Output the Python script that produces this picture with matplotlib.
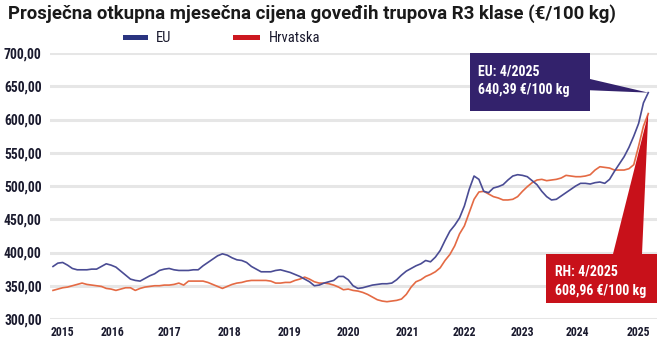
import matplotlib
matplotlib.use("Agg")
import matplotlib.pyplot as plt
from matplotlib.patches import Polygon, Rectangle
from matplotlib import font_manager

# Monthly average purchase price of R3 beef carcasses, Jan 2015 - Apr 2025 (EUR/100 kg)
years = [2015, 2016, 2017, 2018, 2019, 2020, 2021, 2022, 2023, 2024, 2025]

eu_prices = [
    379, 384, 385, 381, 376, 374, 374, 374, 375, 375, 379, 383,   # 2015
    381, 378, 372, 366, 360, 358, 357, 361, 365, 368, 373, 375,   # 2016
    376, 374, 373, 373, 373, 374, 374, 380, 385, 390, 395, 398,   # 2017
    396, 392, 389, 388, 385, 379, 375, 371, 371, 371, 373, 374,   # 2018
    372, 370, 367, 364, 360, 356, 350, 351, 354, 356, 358, 364,   # 2019
    364, 359, 350, 346, 347, 349, 351, 352, 353, 353, 354, 359,   # 2020
    366, 372, 376, 380, 383, 388, 386, 393, 403, 418, 432, 441,   # 2021
    452, 470, 495, 515, 510, 492, 490, 497, 499, 502, 509, 515,   # 2022
    517, 516, 514, 508, 502, 492, 484, 479, 480, 485, 490, 495,   # 2023
    500, 504, 504, 503, 505, 506, 504, 510, 522, 533, 544, 558,   # 2024
    575, 594, 625, 640.39,                                        # 2025
]

hr_prices = [
    343, 345, 347, 348, 350, 352, 354, 352, 351, 350, 349, 346,   # 2015
    345, 343, 345, 347, 347, 343, 346, 348, 349, 350, 350, 351,   # 2016
    351, 352, 354, 351, 357, 357, 357, 357, 355, 352, 349, 346,   # 2017
    349, 352, 354, 355, 357, 358, 358, 358, 358, 357, 354, 354,   # 2018
    355, 355, 358, 360, 363, 360, 356, 354, 354, 353, 351, 348,   # 2019
    344, 345, 343, 342, 340, 337, 333, 329, 327, 326, 327, 328,   # 2020
    330, 337, 348, 356, 359, 364, 367, 371, 377, 388, 397, 410,   # 2021
    428, 440, 460, 480, 491, 492, 488, 484, 482, 479, 479, 480,   # 2022
    484, 492, 499, 505, 509, 510, 508, 509, 510, 512, 516, 515,   # 2023
    514, 514, 515, 517, 524, 529, 528, 527, 524, 524, 524, 526,   # 2024
    532, 560, 590, 608.96,                                        # 2025
]

series_names = ["EU", "Hrvatska"]
y_ticks = [300, 350, 400, 450, 500, 550, 600, 650, 700]
last_label = "4/2025"

TITLE = "Prosječna otkupna mjesečna cijena goveđih trupova R3 klase (€/100 kg)"

# where each year label sits along the month axis
year_label_pos = [1.9, 12.2, 24.0, 36.4, 48.8, 61.0, 73.2, 85.0, 97.0, 108.3, 120.9]

EU_LINE = "#4a4c94"
HR_LINE = "#e46a44"
EU_KEY = "#2a3480"
HR_KEY = "#cc1820"
EU_BOX = "#33226c"
HR_BOX = "#c8111a"
TEXT = "#1a1a2e"


def pick_font(candidates):
    for name in candidates:
        try:
            font_manager.findfont(font_manager.FontProperties(family=name),
                                  fallback_to_default=False)
            return name
        except Exception:
            continue
    return "DejaVu Sans"


narrow = pick_font(["Liberation Sans Narrow", "Roboto Condensed", "DejaVu Sans"])
regular = pick_font(["Roboto", "Liberation Sans", "DejaVu Sans"])


def fmt(v):
    return f"{v:.2f}".replace(".", ",")


W, H = 671, 343
fig = plt.figure(figsize=(W / 100, H / 100), dpi=100)
fig.patch.set_facecolor("white")

# plot area in pixel terms: x 50..657, y 53..319 (from top)
left, right, top, bottom = 50, 657, 53, 319
ax = fig.add_axes([left / W, (H - bottom) / H, (right - left) / W, (bottom - top) / H])
ax.set_facecolor("white")

months = list(range(len(eu_prices)))
ax.set_xlim(-0.62, 124.8)
ax.set_ylim(300, 700)

ax.set_yticks(y_ticks)
ax.set_yticklabels([fmt(v) for v in y_ticks])
ax.yaxis.grid(True, color="#e6e6e6", linewidth=2.2, zorder=0)
ax.set_axisbelow(True)
for s in ax.spines.values():
    s.set_visible(False)
ax.tick_params(axis="both", length=0)
ax.tick_params(axis="y", pad=6)
ax.tick_params(axis="x", pad=5)
for lab in ax.get_yticklabels():
    lab.set_fontfamily(narrow)
    lab.set_fontweight("bold")
    lab.set_fontsize(9.8)
    lab.set_color(TEXT)

ax.set_xticks(year_label_pos)
ax.set_xticklabels([str(y) for y in years], fontfamily=narrow,
                   fontweight="bold", fontsize=8.5, color=TEXT)

ax.plot(months, hr_prices, color=HR_LINE, linewidth=1.2, zorder=3)
ax.plot(months, eu_prices, color=EU_LINE, linewidth=1.2, zorder=4)

# callouts for the latest month
end = months[-1]
eu_end = eu_prices[-1]
hr_end = hr_prices[-1]

ax.add_patch(Rectangle((86.2, 613.0), 24.8, 87.4, facecolor=EU_BOX,
                       edgecolor="none", zorder=6, clip_on=False))
ax.add_patch(Polygon([(110.9, 661), (110.9, 644), (end, eu_end)], closed=True,
                     facecolor=EU_BOX, edgecolor="none", zorder=6, clip_on=False))
ax.text(87.9, 671.5, f"EU: {last_label}", color="white", fontfamily=narrow,
        fontweight="bold", fontsize=10, va="center", ha="left", zorder=7)
ax.text(87.9, 644.5, f"{fmt(eu_end)} €/100 kg", color="white", fontfamily=narrow,
        fontweight="bold", fontsize=10, va="center", ha="left", zorder=7)

ax.add_patch(Rectangle((101.9, 324.0), 22.9, 73.7, facecolor=HR_BOX,
                       edgecolor="none", zorder=6, clip_on=False))
ax.add_patch(Polygon([(115.7, 397.5), (121.7, 397.5), (end, hr_end)], closed=True,
                     facecolor=HR_BOX, edgecolor="none", zorder=6, clip_on=False))
ax.text(103.7, 371, f"RH: {last_label}", color="white", fontfamily=narrow,
        fontweight="bold", fontsize=10, va="center", ha="left", zorder=7)
ax.text(103.7, 342.5, f"{fmt(hr_end)} €/100 kg", color="white", fontfamily=narrow,
        fontweight="bold", fontsize=10, va="center", ha="left", zorder=7)

# title
fig.text(8 / W, 1 - 14 / H, TITLE, fontfamily=regular, fontweight="bold",
         fontsize=13.4, color="#1a1a1a", va="center", ha="left")

# legend keys
for (x0, x1, tx), name, col in zip([(123, 148, 156), (233, 260, 269)],
                                   series_names, [EU_KEY, HR_KEY]):
    fig.add_artist(Rectangle((x0 / W, 1 - 40 / H), (x1 - x0) / W, 5 / H,
                             facecolor=col, edgecolor="none",
                             transform=fig.transFigure))
    fig.text(tx / W, 1 - 38 / H, name, fontfamily=narrow, fontsize=10.5,
             color=TEXT, va="center", ha="left")

fig.savefig("out.png", dpi=100, facecolor="white")
